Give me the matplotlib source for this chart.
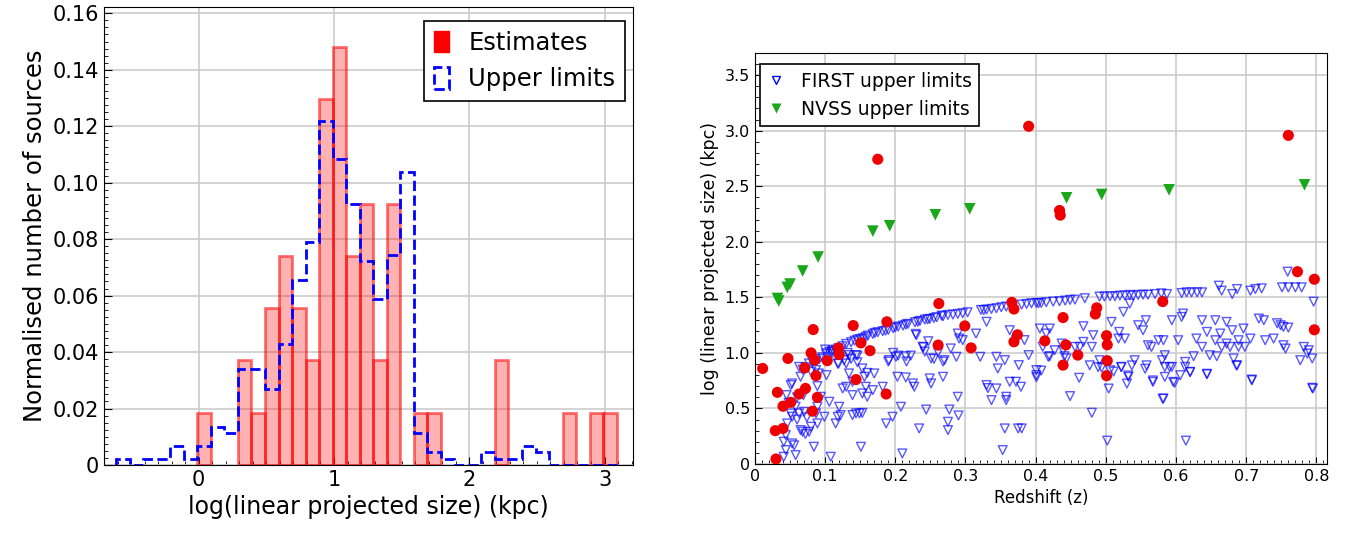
import matplotlib
matplotlib.use("Agg")
import matplotlib.pyplot as plt
import numpy as np
from matplotlib.patches import Patch
from matplotlib.lines import Line2D
from matplotlib.ticker import MultipleLocator

plt.rcParams["font.family"] = ["DejaVu Sans"]

# ---- left panel: histogram of log(linear projected size) ----
bin_width = 0.1
est_left = [0.0, 0.3, 0.4, 0.5, 0.6, 0.7, 0.8, 0.9, 1.0, 1.1, 1.2, 1.3, 1.4,
            1.6, 1.7, 2.2, 2.7, 2.9, 3.0]
est_counts = [1, 2, 1, 3, 4, 3, 2, 7, 8, 4, 5, 2, 5, 1, 1, 2, 1, 1, 1]

ul_left = [-0.6, -0.4, -0.3, -0.2, -0.1, 0.0, 0.1, 0.2, 0.3, 0.4, 0.5, 0.6,
           0.7, 0.8, 0.9, 1.0, 1.1, 1.2, 1.3, 1.4, 1.5, 1.6, 1.7, 1.8, 2.1,
           2.2, 2.3, 2.4, 2.5]
ul_counts = [1, 1, 1, 3, 1, 3, 6, 5, 15, 15, 12, 19, 29, 35, 54, 48, 41, 32,
             26, 33, 46, 5, 2, 1, 2, 1, 1, 3, 2]

# ---- right panel: size vs redshift ----
est_z = [0.011, 0.030, 0.029, 0.040, 0.040, 0.051, 0.032, 0.047, 0.063, 0.072,
         0.071, 0.080, 0.083, 0.085, 0.087, 0.089, 0.082, 0.103, 0.119, 0.120,
         0.140, 0.151, 0.144, 0.164, 0.187, 0.188, 0.262, 0.261, 0.299, 0.308,
         0.366, 0.369, 0.374, 0.369, 0.413, 0.439, 0.443, 0.439, 0.460, 0.487,
         0.485, 0.501, 0.502, 0.502, 0.501, 0.581, 0.773, 0.797, 0.797, 0.175,
         0.390, 0.434, 0.435, 0.760]
est_size = [0.86, 0.045, 0.30, 0.32, 0.52, 0.555, 0.645, 0.95, 0.63, 0.68,
            0.865, 1.00, 1.21, 0.935, 0.795, 0.60, 0.475, 0.93, 1.045, 0.985,
            1.246, 1.09, 0.76, 1.02, 0.63, 1.28, 1.444, 1.07, 1.243, 1.045,
            1.455, 1.395, 1.163, 1.10, 1.108, 1.318, 1.072, 0.89, 0.98, 1.406,
            1.35, 1.155, 1.073, 0.93, 0.795, 1.462, 1.731, 1.663, 1.208, 2.743,
            3.04, 2.282, 2.24, 2.958]

nvss_z = [0.034, 0.032, 0.046, 0.050, 0.068, 0.090, 0.168, 0.192, 0.257,
          0.306, 0.444, 0.494, 0.590, 0.783]
nvss_size = [1.467, 1.49, 1.59, 1.62, 1.737, 1.863, 2.096, 2.144, 2.243,
             2.297, 2.396, 2.426, 2.468, 2.513]

first_pts = [
    # upper envelope
    (0.063, 0.874), (0.068, 0.85), (0.072, 0.87), (0.077, 0.905), (0.082, 0.92),
    (0.087, 0.93), (0.092, 0.946), (0.096, 0.96), (0.101, 0.994), (0.106, 1.01),
    (0.111, 1.024), (0.115, 1.03), (0.119, 1.042), (0.125, 1.06), (0.130, 1.081),
    (0.137, 1.096), (0.142, 1.11), (0.146, 1.12), (0.150, 1.125), (0.154, 1.132),
    (0.158, 1.145), (0.161, 1.156), (0.168, 1.171), (0.171, 1.18), (0.175, 1.186),
    (0.182, 1.195), (0.186, 1.20), (0.190, 1.207), (0.197, 1.222), (0.200, 1.23),
    (0.204, 1.237), (0.211, 1.246), (0.215, 1.255), (0.218, 1.261), (0.228, 1.276),
    (0.232, 1.28), (0.235, 1.288), (0.242, 1.30), (0.246, 1.302), (0.249, 1.306),
    (0.255, 1.315), (0.259, 1.321), (0.266, 1.336), (0.268, 1.33), (0.275, 1.342),
    (0.282, 1.345), (0.289, 1.351), (0.296, 1.357), (0.303, 1.366), (0.322, 1.387),
    (0.326, 1.385), (0.330, 1.39), (0.337, 1.396), (0.344, 1.402), (0.351, 1.411),
    (0.358, 1.417), (0.380, 1.435), (0.387, 1.441), (0.394, 1.447), (0.401, 1.45),
    (0.404, 1.447), (0.408, 1.45), (0.415, 1.456), (0.425, 1.462), (0.434, 1.465),
    (0.442, 1.471), (0.449, 1.477), (0.456, 1.48), (0.470, 1.492), (0.491, 1.507),
    (0.498, 1.507), (0.506, 1.51), (0.513, 1.51), (0.520, 1.516), (0.527, 1.516),
    (0.534, 1.522), (0.539, 1.516), (0.546, 1.522), (0.553, 1.524), (0.560, 1.524),
    (0.570, 1.53), (0.579, 1.536), (0.587, 1.53), (0.608, 1.539), (0.615, 1.545),
    (0.622, 1.545), (0.630, 1.545), (0.637, 1.545), (0.661, 1.605), (0.665, 1.56),
    (0.680, 1.53), (0.687, 1.575), (0.706, 1.56), (0.713, 1.575), (0.722, 1.581),
    (0.751, 1.59), (0.760, 1.59), (0.770, 1.59), (0.779, 1.59), (0.759, 1.731),
    (0.796, 1.461),
    # low redshift cluster
    (0.065, 0.785), (0.080, 0.83), (0.087, 0.845), (0.091, 0.815), (0.102, 0.80),
    (0.051, 0.71), (0.053, 0.725), (0.089, 0.701), (0.094, 0.605), (0.089, 0.515),
    (0.087, 0.455), (0.099, 0.425), (0.058, 0.515), (0.063, 0.455), (0.051, 0.455),
    (0.053, 0.425), (0.046, 0.365), (0.065, 0.305), (0.068, 0.29), (0.077, 0.29),
    (0.080, 0.335), (0.089, 0.365), (0.044, 0.26), (0.041, 0.20), (0.053, 0.185),
    (0.058, 0.08), (0.044, 0.125), (0.041, 0.065), (0.084, 0.155), (0.108, 0.065),
    (0.106, 0.56), (0.120, 0.515), (0.118, 0.425), (0.115, 0.365), (0.122, 0.44),
    (0.056, 0.168), (0.060, 0.60), (0.048, 0.55), (0.070, 0.47), (0.074, 0.42),
    (0.072, 0.27), (0.060, 0.40), (0.069, 0.62), (0.045, 0.62),
    # scattered below the envelope
    (0.100, 1.03), (0.109, 1.012), (0.119, 0.902), (0.132, 1.00), (0.137, 0.946),
    (0.146, 0.976), (0.146, 0.916), (0.190, 0.922), (0.197, 1.00), (0.204, 0.976),
    (0.216, 0.922), (0.222, 0.976), (0.229, 1.171), (0.247, 1.105), (0.240, 1.051),
    (0.242, 1.012), (0.255, 0.946), (0.261, 1.006), (0.268, 0.922),
    (0.110, 0.995), (0.118, 0.905), (0.127, 0.935), (0.134, 0.98), (0.130, 0.905),
    (0.144, 0.98), (0.134, 0.815), (0.139, 0.74), (0.130, 0.695), (0.125, 0.68),
    (0.139, 0.62), (0.153, 0.86), (0.156, 0.785), (0.158, 0.695), (0.153, 0.635),
    (0.160, 0.605), (0.168, 0.665), (0.170, 0.815), (0.160, 0.82), (0.144, 0.455),
    (0.149, 0.455), (0.153, 0.46), (0.139, 0.44), (0.151, 0.155), (0.182, 0.695),
    (0.191, 0.935), (0.201, 0.965), (0.215, 0.97), (0.203, 0.785), (0.215, 0.779),
    (0.225, 0.725), (0.227, 0.695), (0.208, 0.515), (0.196, 0.425), (0.187, 0.365),
    (0.210, 0.095), (0.230, 1.16), (0.239, 1.055), (0.251, 0.95), (0.270, 0.935),
    (0.249, 0.77), (0.251, 0.725), (0.268, 0.785), (0.244, 0.49), (0.234, 0.32),
    (0.277, 0.49), (0.275, 0.38), (0.275, 0.305), (0.289, 0.605), (0.287, 0.965),
    (0.279, 1.04), (0.289, 1.174), (0.291, 1.13), (0.315, 1.174), (0.321, 0.965),
    (0.330, 1.28), (0.344, 0.965), (0.346, 0.86), (0.356, 0.935), (0.337, 0.575),
    (0.330, 0.71), (0.344, 0.68), (0.358, 0.605), (0.358, 0.575), (0.356, 0.32),
    (0.353, 0.125), (0.363, 1.204), (0.372, 1.115), (0.384, 1.115), (0.372, 0.74),
    (0.379, 0.695), (0.376, 0.89), (0.390, 0.98), (0.363, 0.74), (0.375, 0.32),
    (0.380, 0.32), (0.401, 0.845), (0.401, 0.80), (0.406, 1.219), (0.410, 1.055),
    (0.415, 1.174), (0.418, 0.965), (0.296, 1.115), (0.290, 0.437), (0.332, 0.683),
    (0.420, 1.219), (0.420, 0.97), (0.427, 1.024), (0.462, 0.776), (0.489, 0.872),
    (0.511, 0.832), (0.522, 0.872), (0.532, 0.797), (0.537, 0.887), (0.556, 0.857),
    (0.408, 0.841), (0.401, 0.781),
    (0.437, 1.084), (0.439, 1.024), (0.441, 0.97), (0.444, 0.95), (0.456, 1.054),
    (0.463, 1.054), (0.468, 1.24), (0.468, 1.099), (0.482, 1.159), (0.480, 1.054),
    (0.477, 0.888), (0.491, 0.934), (0.494, 0.868), (0.508, 1.279), (0.506, 0.844),
    (0.504, 0.679), (0.519, 1.189), (0.518, 1.129), (0.527, 1.129), (0.522, 0.874),
    (0.525, 1.369), (0.534, 1.444), (0.532, 0.784), (0.530, 0.724), (0.541, 0.934),
    (0.546, 1.249), (0.553, 1.204), (0.557, 1.294), (0.558, 0.888), (0.560, 1.069),
    (0.565, 1.054), (0.567, 0.739), (0.575, 1.114), (0.582, 1.114), (0.584, 0.979),
    (0.580, 0.934), (0.584, 0.874), (0.584, 0.784), (0.594, 0.874), (0.596, 0.739),
    (0.594, 1.294), (0.603, 1.114), (0.606, 0.799), (0.608, 1.324), (0.610, 1.354),
    (0.613, 0.919), (0.613, 0.874), (0.620, 0.829), (0.625, 0.970), (0.629, 1.129),
    (0.637, 1.054), (0.637, 1.294), (0.644, 1.189), (0.644, 0.808), (0.648, 0.979),
    (0.656, 1.294), (0.658, 0.970), (0.656, 1.114), (0.663, 1.174), (0.665, 1.054),
    (0.672, 1.279), (0.672, 1.084), (0.680, 1.204), (0.677, 1.054), (0.682, 0.950),
    (0.687, 0.888), (0.689, 1.114), (0.689, 1.054), (0.696, 1.219), (0.698, 1.054),
    (0.706, 1.129), (0.708, 0.754), (0.718, 1.309), (0.725, 1.294), (0.727, 1.114),
    (0.739, 1.129), (0.744, 1.267), (0.749, 1.249), (0.753, 1.234), (0.760, 1.228),
    (0.753, 1.069), (0.756, 1.039), (0.777, 0.934), (0.782, 1.054), (0.787, 0.994),
    (0.789, 1.024), (0.794, 0.950), (0.795, 0.679), (0.582, 0.589), (0.449, 0.611),
    (0.480, 0.461), (0.502, 0.210), (0.614, 0.210), (0.567, 0.752), (0.598, 0.731),
    (0.620, 0.827), (0.581, 0.587), (0.644, 0.812), (0.686, 0.887), (0.708, 0.760),
    (0.794, 0.686), (0.591, 0.872),
]

fig = plt.figure(figsize=(13.51, 5.43), dpi=100)

# ---------------- left panel ----------------
ax1 = fig.add_axes([0.077, 0.1436, 0.3915, 0.8434])
est_w = np.array(est_counts) / sum(est_counts)
ul_w = np.array(ul_counts) / sum(ul_counts)
edges = np.arange(-0.6, 3.15, bin_width) - 0.01
ax1.bar(np.array(est_left) - 0.01, est_w, width=bin_width, align="edge",
        facecolor=(1, 0, 0, 0.3), edgecolor=(1, 0, 0, 0.55), linewidth=2,
        zorder=2)
ax1.hist(np.array(ul_left) + 0.04, bins=edges, weights=ul_w, histtype="step",
         color="blue", linestyle="--", linewidth=2, zorder=3)
ax1.set_xlim(-0.70, 3.21)
ax1.set_ylim(0, 0.1622)
ax1.set_yticks([0, 0.02, 0.04, 0.06, 0.08, 0.10, 0.12, 0.14, 0.16])
ax1.set_yticklabels(["0", "0.02", "0.04", "0.06", "0.08", "0.10", "0.12",
                     "0.14", "0.16"])
ax1.set_xticks([0, 1, 2, 3])
ax1.xaxis.set_minor_locator(MultipleLocator(0.1))
ax1.yaxis.set_minor_locator(MultipleLocator(0.0025))
ax1.tick_params(which="both", direction="in", labelsize=15)
ax1.tick_params(which="major", length=6)
ax1.tick_params(which="minor", length=3)
ax1.grid(True, color="#cccccc", linewidth=1.2, zorder=0)
ax1.set_axisbelow(True)
ax1.set_xlabel("log(linear projected size) (kpc)", fontsize=17)
ax1.set_ylabel("Normalised number of sources", fontsize=17.5)
h1 = [Patch(facecolor="red", edgecolor="red"),
      Patch(fill=False, edgecolor="blue", linestyle="--", linewidth=2)]
leg1 = ax1.legend(h1, ["Estimates", "Upper limits"], loc="upper right",
                  bbox_to_anchor=(0.985, 0.97),
                  fontsize=17.5, handlelength=0.6, handleheight=1.0,
                  handletextpad=0.8, fancybox=False, framealpha=1,
                  edgecolor="black", borderaxespad=0.0)
leg1.get_frame().set_linewidth(1.2)

# ---------------- right panel ----------------
ax2 = fig.add_axes([0.5588, 0.1455, 0.4234, 0.757])
fz = [p[0] for p in first_pts]
fs = [p[1] for p in first_pts]
ax2.scatter(fz, fs, marker="v", s=40, facecolors="none",
            edgecolors=(0, 0, 1, 0.65), linewidths=1.0, zorder=3)
ax2.scatter(est_z, est_size, marker="o", s=64, color="#ee0000",
            edgecolors="none", zorder=4)
ax2.scatter(nvss_z, nvss_size, marker="v", s=70, color="#1aa81a",
            edgecolors="none", zorder=4)
ax2.set_xlim(0, 0.815)
ax2.set_ylim(0, 3.70)
ax2.set_xticks([0, 0.1, 0.2, 0.3, 0.4, 0.5, 0.6, 0.7, 0.8])
ax2.set_xticklabels(["0", "0.1", "0.2", "0.3", "0.4", "0.5", "0.6", "0.7",
                     "0.8"])
ax2.set_yticks([0, 0.5, 1.0, 1.5, 2.0, 2.5, 3.0, 3.5])
ax2.set_yticklabels(["0", "0.5", "1.0", "1.5", "2.0", "2.5", "3.0", "3.5"])
ax2.xaxis.set_minor_locator(MultipleLocator(0.01))
ax2.yaxis.set_minor_locator(MultipleLocator(0.1))
ax2.tick_params(which="both", direction="in", labelsize=11.5)
ax2.tick_params(which="major", length=5)
ax2.tick_params(which="minor", length=3)
ax2.grid(True, color="#cccccc", linewidth=1.2, zorder=0)
ax2.set_axisbelow(True)
ax2.set_xlabel("Redshift (z)", fontsize=12)
ax2.set_ylabel("log (linear projected size) (kpc)", fontsize=12.5)
h2 = [Line2D([], [], marker="v", linestyle="none", markersize=6,
             markerfacecolor="none", markeredgecolor="blue"),
      Line2D([], [], marker="v", linestyle="none", markersize=7,
             markerfacecolor="#1aa81a", markeredgecolor="none")]
leg2 = ax2.legend(h2, ["FIRST upper limits", "NVSS upper limits"],
                  loc="upper left", bbox_to_anchor=(0.008, 0.973),
                  fontsize=13.5, handlelength=1.0, labelspacing=0.5,
                  fancybox=False, framealpha=1, edgecolor="black",
                  borderaxespad=0.0)
leg2.get_frame().set_linewidth(1.2)

fig.savefig("out.png", dpi=100)
